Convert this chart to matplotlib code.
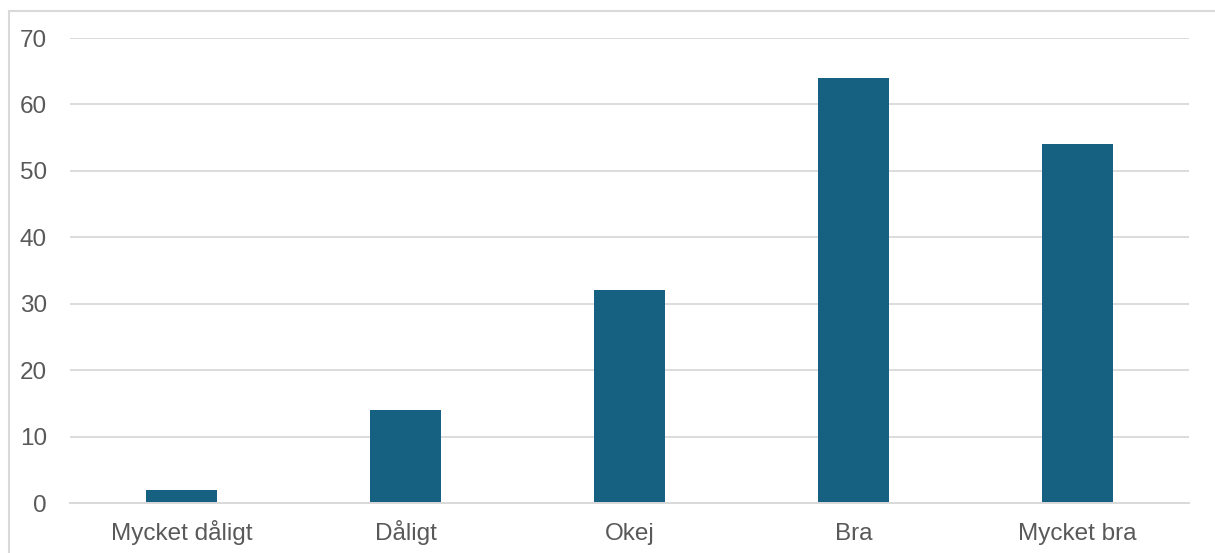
import matplotlib
matplotlib.use("Agg")
import matplotlib.pyplot as plt
from matplotlib.patches import Rectangle

categories = ["Mycket dåligt", "Dåligt", "Okej", "Bra", "Mycket bra"]
values = [2, 14, 32, 64, 54]
yticks = [0, 10, 20, 30, 40, 50, 60, 70]

W, H = 1215, 553
fig = plt.figure(figsize=(W / 100, H / 100), dpi=100)
plt.rcParams['font.family'] = ['Liberation Sans', 'DejaVu Sans']

left, right, bottom, top = 70, 1189, 503, 38
ax = fig.add_axes([left / W, 1 - bottom / H, (right - left) / W, (bottom - top) / H])

x = list(range(len(categories)))
ax.bar(x, values, width=0.317, color="#166082", zorder=3)
ax.set_xlim(-0.5, len(categories) - 0.5)
ax.set_ylim(0, 70)
ax.set_yticks(yticks)
ax.set_xticks(x)
ax.set_xticklabels(categories, va="baseline")

for s in ["top", "right", "left"]:
    ax.spines[s].set_visible(False)
ax.spines["bottom"].set_color("#d9d9d9")
ax.spines["bottom"].set_linewidth(1.4)
ax.spines["bottom"].set_zorder(4)
ax.yaxis.grid(True, color="#d9d9d9", linewidth=1.3, zorder=0)
ax.tick_params(axis="both", length=0, labelsize=17.5, labelcolor="#595959")
ax.tick_params(axis="y", pad=16.5)
ax.tick_params(axis="x", pad=26.5)

fig.patches.append(Rectangle((9 / W, -0.1), 1.2, 1 - 11 / H + 0.1, transform=fig.transFigure,
                             fill=False, edgecolor="#d9d9d9", linewidth=1.5))

fig.savefig("out.png", dpi=100)
